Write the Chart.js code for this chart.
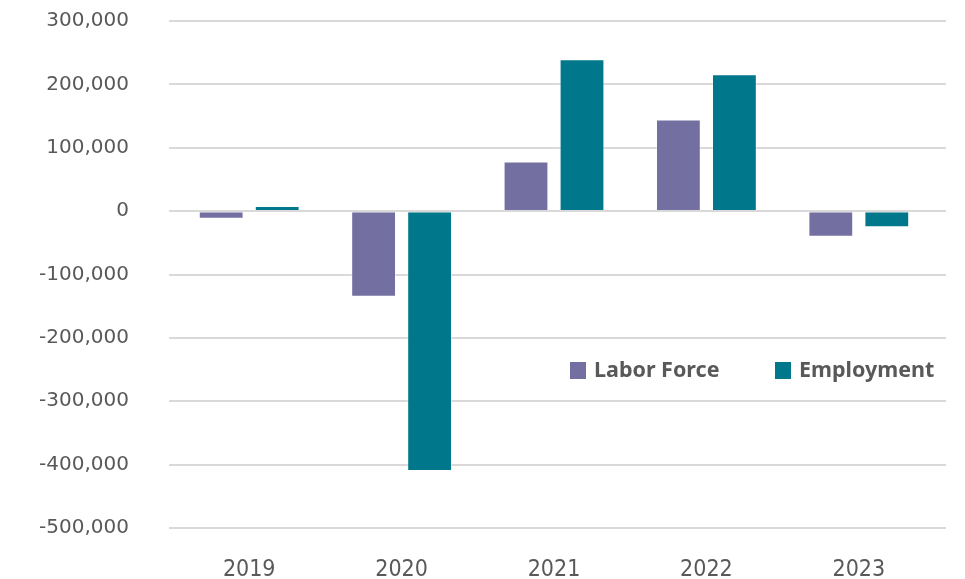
<!DOCTYPE html>
<html>
<head>
<meta charset="utf-8">
<script src="https://cdn.jsdelivr.net/npm/chart.js@4"></script>
<style>
  html, body { margin: 0; padding: 0; background: #fff; }
  #wrap { width: 965px; height: 579px; position: relative; }
</style>
</head>
<body>
<div id="wrap"><canvas id="canvas" width="965" height="579"></canvas></div>
<script>
// Data
const years = ['2019', '2020', '2021', '2022', '2023'];
const laborForce = [-12000, -135000, 78500, 144500, -40500];
const employment = [8000, -410000, 239500, 216000, -25500];
const yMin = -500000;
const yMax = 300000;
const yStep = 100000;

const purple = '#7370a1';
const teal = '#00778a';
const gridColor = '#d9d9d9';
const textColor = '#595959';

// zero line sits on top of the bars, legend drawn inside the plot
const overlayPlugin = {
  id: 'overlay',
  afterDatasetsDraw(chart) {
    const ctx = chart.ctx;
    const area = chart.chartArea;
    const y0 = Math.round(chart.scales.y.getPixelForValue(0));
    ctx.save();
    ctx.strokeStyle = gridColor;
    ctx.lineWidth = 2;
    ctx.beginPath();
    ctx.moveTo(area.left - 4, y0);
    ctx.lineTo(area.right + 11, y0);
    ctx.stroke();

    // legend
    const items = chart.data.datasets;
    const xs = [570, 775];
    const ly = 370;
    ctx.font = 'bold 21.5px "Noto Sans", sans-serif';
    ctx.textBaseline = 'middle';
    items.forEach((ds, i) => {
      ctx.fillStyle = ds.backgroundColor;
      ctx.fillRect(xs[i], ly - 8, 16, 17);
      ctx.fillStyle = textColor;
      ctx.fillText(ds.label, xs[i] + 24, ly + 1);
    });
    ctx.restore();
  }
};

// extend the horizontal gridlines a bit past the plot like the original
const gridExtend = {
  id: 'gridExtend',
  beforeDatasetsDraw(chart) {
    const ctx = chart.ctx;
    const area = chart.chartArea;
    const yScale = chart.scales.y;
    ctx.save();
    ctx.strokeStyle = gridColor;
    ctx.lineWidth = 2;
    yScale.ticks.forEach(t => {
      const y = Math.round(yScale.getPixelForValue(t.value));
      ctx.beginPath();
      ctx.moveTo(area.left - 4, y);
      ctx.lineTo(area.left + 1, y);
      ctx.moveTo(area.right - 1, y);
      ctx.lineTo(area.right + 11, y);
      ctx.stroke();
    });
    ctx.restore();
  }
};

const ctx = document.getElementById('canvas').getContext('2d');

new Chart(ctx, {
  type: 'bar',
  data: {
    labels: years,
    datasets: [
      {
        label: 'Labor Force',
        data: laborForce,
        backgroundColor: purple,
        borderColor: 'rgba(255,255,255,0.35)',
        borderWidth: 1,
        categoryPercentage: 0.735,
        barPercentage: 0.8
      },
      {
        label: 'Employment',
        data: employment,
        backgroundColor: teal,
        borderColor: 'rgba(255,255,255,0.35)',
        borderWidth: 1,
        categoryPercentage: 0.735,
        barPercentage: 0.8
      }
    ]
  },
  options: {
    responsive: false,
    animation: false,
    layout: {
      padding: { top: 21, right: 30, left: 0, bottom: 0 }
    },
    plugins: {
      legend: { display: false },
      tooltip: { enabled: false }
    },
    scales: {
      x: {
        grid: { display: false },
        border: { display: false },
        ticks: {
          color: textColor,
          padding: 20,
          font: { family: "'Liberation Sans Narrow', 'DejaVu Sans Condensed', sans-serif", size: 23 }
        },
        afterFit(scale) { scale.height = 51; }
      },
      y: {
        min: yMin,
        max: yMax,
        grid: { color: gridColor, lineWidth: 2, drawTicks: false },
        border: { display: false },
        ticks: {
          stepSize: yStep,
          color: textColor,
          padding: 44,
          font: { family: "'DejaVu Sans', sans-serif", size: 20 },
          callback: v => v.toLocaleString('en-US')
        },
        afterFit(scale) {
          scale.width = 173;
          scale.paddingTop = 0;
          scale.paddingBottom = 0;
        }
      }
    }
  },
  plugins: [gridExtend, overlayPlugin]
});
</script>
</body>
</html>
